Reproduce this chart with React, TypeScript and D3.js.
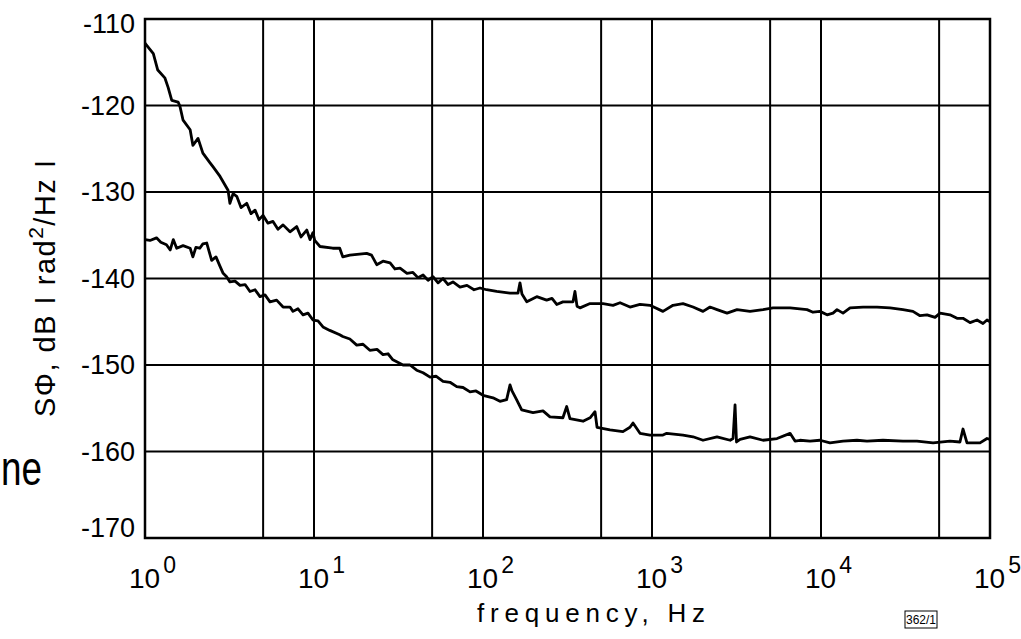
import React from 'react';
import * as d3 from 'd3';

const yTicks = [-110, -120, -130, -140, -150, -160, -170];
const xDecades = [1, 10, 100, 1000, 10000, 100000];
const xExponents = ['0', '1', '2', '3', '4', '5'];
const xHalfGrid = [5, 50, 500, 5000, 50000];

const upperFreq = [1.0, 1.01, 1.12, 1.19, 1.31, 1.37, 1.44, 1.57, 1.61, 1.68, 1.85, 1.92, 2.06, 2.2, 2.42, 2.53, 2.78, 3.1, 3.18, 3.32, 3.49, 3.7, 4.0, 4.24, 4.48, 4.73, 4.99, 5.34, 5.72, 6.12, 6.56, 7.21, 7.9, 8.38, 9.06, 9.47, 9.86, 10.1, 10.85, 12.9, 14.2, 14.8, 16.3, 20.5, 21.9, 23.5, 25.6, 28.2, 30.1, 32.3, 35.5, 38.5, 41.2, 44.2, 47.3, 50.6, 54.2, 58.0, 62.1, 66.4, 73.1, 80.4, 88.5, 96.0, 105, 120.5, 144.5, 161, 165.5, 170, 181.5, 208, 238, 256, 273, 297, 341, 350, 360, 375, 430, 513, 588, 647, 741, 849, 973, 1161, 1331, 1525, 1749, 2004, 2205, 2426, 2780, 3186, 3802, 4540, 5200, 6560, 8262, 8970, 9860, 10860, 11780, 12440, 13500, 14860, 17740, 21450, 25600, 30550, 35000, 38540, 42400, 47300, 50600, 57950, 63800, 69200, 76200, 83800, 90900, 96000, 100000];
const upperDb = [-112.8, -112.9, -114.0, -115.9, -116.8, -117.9, -119.4, -119.6, -120.1, -121.7, -122.8, -124.6, -123.8, -125.5, -126.6, -127.1, -128.2, -129.8, -131.3, -130.2, -130.5, -131.8, -131.3, -132.5, -132.1, -133.2, -132.7, -133.6, -133.4, -134.3, -133.8, -134.6, -134.0, -135.2, -134.4, -135.5, -134.7, -135.6, -136.3, -136.5, -136.5, -137.5, -137.3, -137.1, -137.3, -138.4, -138.0, -138.2, -138.9, -138.8, -139.4, -139.3, -139.9, -139.6, -140.2, -139.8, -140.5, -140.0, -140.7, -140.4, -141.0, -140.8, -141.3, -141.1, -141.3, -141.5, -141.7, -141.7, -140.5, -141.8, -142.7, -142.1, -142.5, -142.3, -143.0, -142.7, -142.7, -141.5, -143.2, -143.4, -142.9, -142.9, -143.1, -142.8, -143.3, -143.0, -143.1, -143.8, -143.1, -142.9, -143.3, -143.8, -143.3, -143.6, -144.0, -143.6, -143.8, -143.6, -143.4, -143.4, -143.6, -143.9, -143.8, -144.2, -144.0, -143.6, -144.0, -143.4, -143.3, -143.3, -143.4, -143.6, -143.8, -144.3, -144.2, -144.5, -144.0, -144.2, -144.6, -144.6, -145.1, -144.8, -145.2, -144.8, -145.0];

const lowerFreq = [1.0, 1.07, 1.17, 1.24, 1.34, 1.41, 1.47, 1.54, 1.68, 1.85, 1.92, 2.0, 2.11, 2.2, 2.32, 2.39, 2.48, 2.63, 2.78, 2.9, 3.04, 3.18, 3.41, 3.65, 3.91, 4.18, 4.48, 4.79, 5.13, 5.49, 6.01, 6.56, 7.21, 7.51, 8.04, 8.61, 9.21, 9.86, 10.56, 11.3, 12.4, 14.2, 14.8, 16.3, 17.9, 19.5, 21.4, 23.6, 25.6, 27.4, 29.3, 33.6, 37.0, 40.5, 44.2, 48.6, 52.7, 58.0, 63.8, 69.9, 76.2, 83.8, 90.9, 100, 114.6, 126, 138, 144.5, 148.5, 158, 169.4, 197.7, 226.5, 249, 297, 312.8, 327, 390.7, 430, 460, 473, 564, 673, 741, 772, 849, 973, 1161, 1222, 1525, 1749, 2004, 2426, 2900, 3016, 3100, 3162, 3320, 3802, 4540, 5495, 6560, 7020, 7510, 8610, 9860, 11300, 13500, 16330, 18710, 23270, 30550, 36980, 46030, 57950, 66400, 69200, 73100, 87300, 96000, 100000];
const lowerDb = [-135.5, -135.6, -135.3, -135.8, -136.1, -136.7, -135.5, -136.5, -136.2, -136.5, -137.5, -136.4, -136.5, -136.0, -135.9, -136.8, -137.9, -137.5, -138.6, -139.4, -139.8, -140.4, -140.3, -140.8, -140.7, -141.5, -141.3, -142.1, -141.9, -142.7, -142.5, -143.3, -143.3, -143.8, -143.5, -144.2, -144.0, -144.8, -144.9, -145.6, -146.0, -146.5, -146.7, -147.0, -147.7, -147.6, -148.3, -148.2, -148.8, -148.7, -149.4, -150.0, -150.0, -150.6, -150.9, -151.4, -151.3, -151.9, -152.0, -152.5, -152.6, -153.1, -153.0, -153.5, -153.8, -154.2, -154.0, -152.3, -153.0, -154.0, -155.2, -155.5, -155.3, -156.0, -156.1, -154.8, -156.2, -156.5, -156.1, -155.4, -157.2, -157.5, -157.7, -157.2, -156.7, -157.9, -158.1, -158.1, -157.9, -158.1, -158.3, -158.7, -158.3, -158.7, -158.5, -154.6, -158.9, -158.6, -158.3, -158.7, -158.5, -157.9, -158.8, -158.7, -158.8, -158.7, -159.0, -158.8, -158.7, -158.8, -158.7, -158.8, -158.8, -159.0, -158.8, -158.9, -157.4, -159.0, -159.0, -158.5, -158.6];

const FONT = '"Liberation Sans", Arial, sans-serif';

export default function App() {
  const x = d3.scaleLog().domain([1, 1e5]).range([145, 990]);
  const y = d3.scaleLinear().domain([-170, -110]).range([538, 19]);
  const line = d3.line<[number, number]>().x(d => x(d[0])).y(d => y(d[1]));
  const upper: [number, number][] = upperFreq.map((f, i) => [f, upperDb[i]]);
  const lower: [number, number][] = lowerFreq.map((f, i) => [f, lowerDb[i]]);
  const [x0, x1] = x.range();
  const [y0, y1] = y.range();

  return (
    <div style={{ position: 'absolute', left: 0, top: 0 }}>
      <svg width={1021} height={639} style={{ display: 'block', background: '#fff' }}>
        {/* grid */}
        {yTicks.map(v => (
          <line key={'gy' + v} x1={x0} x2={x1} y1={y(v)} y2={y(v)} stroke="#000" strokeWidth={2} />
        ))}
        {xDecades.concat(xHalfGrid).map(v => (
          <line key={'gx' + v} x1={x(v)} x2={x(v)} y1={y1} y2={y0} stroke="#000" strokeWidth={2} />
        ))}
        <rect x={x0} y={y1} width={x1 - x0} height={y0 - y1} fill="none" stroke="#000" strokeWidth={2.5} />

        {/* curves */}
        <path d={line(upper) || ''} fill="none" stroke="#000" strokeWidth={2.8} strokeLinejoin="round" />
        <path d={line(lower) || ''} fill="none" stroke="#000" strokeWidth={2.8} strokeLinejoin="round" />

        {/* y tick labels */}
        {yTicks.map(v => (
          <text key={'ty' + v} x={135} y={Math.min(Math.max(y(v), 24), 528)} textAnchor="end"
            dominantBaseline="central" fontFamily={FONT} fontSize={27} fill="#000">
            {'-' + Math.abs(v)}
          </text>
        ))}

        {/* x tick labels */}
        {xDecades.map((v, i) => (
          <text key={'tx' + v} x={x(v) - 16} y={588} fontFamily={FONT} fontSize={28} fill="#000">
            10
            <tspan dx={3} dy={-15} fontSize={23}>{xExponents[i]}</tspan>
          </text>
        ))}

        {/* axis titles */}
        <text x={477} y={622} fontFamily={FONT} fontSize={26} fill="#000" textLength={228} lengthAdjust="spacing">
          frequency, Hz
        </text>
        <text transform="translate(55,417) rotate(-90)" x={0} y={0} fontFamily={FONT} fontSize={29} fill="#000" letterSpacing={1.5}>
          SΦ, dB I rad<tspan dy={-12} fontSize={21}>2</tspan><tspan dy={12}>/Hz I</tspan>
        </text>

        {/* stray slide text */}
        <text x={1} y={485} fontFamily={FONT} fontSize={48} fill="#000" textLength={41} lengthAdjust="spacingAndGlyphs">ne</text>

        {/* figure code */}
        <rect x={905} y={611} width={32} height={17} fill="none" stroke="#000" strokeWidth={1} />
        <text x={921} y={624} textAnchor="middle" fontFamily={FONT} fontSize={12} fill="#000">362/1</text>
      </svg>
    </div>
  );
}
